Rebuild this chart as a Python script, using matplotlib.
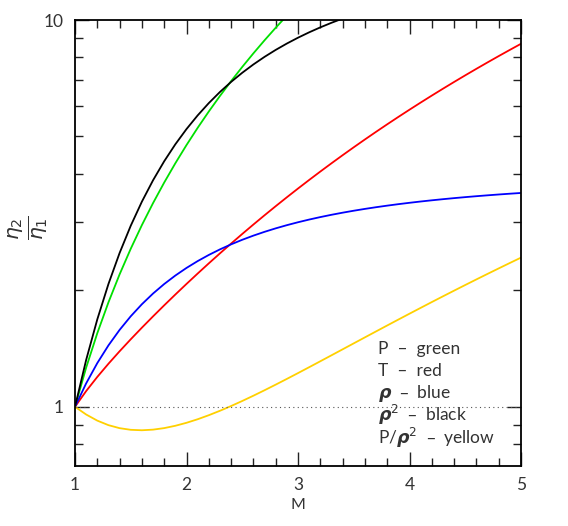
import matplotlib
matplotlib.use("Agg")
import matplotlib.pyplot as plt
from matplotlib.ticker import FixedLocator, NullFormatter, FixedFormatter

plt.rcParams['font.family'] = ['Lato', 'DejaVu Sans']
plt.rcParams['mathtext.fontset'] = 'dejavusans'

mach = [1.0, 1.1, 1.2, 1.3, 1.4, 1.5, 1.6, 1.7, 1.8, 1.9, 2.0,
        2.1, 2.2, 2.3, 2.4, 2.5, 2.6, 2.7, 2.8, 2.9, 3.0,
        3.1, 3.2, 3.3, 3.4, 3.5, 3.6, 3.7, 3.8, 3.9, 4.0,
        4.1, 4.2, 4.3, 4.4, 4.5, 4.6, 4.7, 4.8, 4.9, 5.0]

pressure = [1.0, 1.2625, 1.55, 1.8625, 2.2, 2.5625, 2.95, 3.3625, 3.8, 4.2625, 4.75,
            5.2625, 5.8, 6.3625, 6.95, 7.5625, 8.2, 8.8625, 9.55, 10.2625, 11.0,
            11.7625, 12.55, 13.3625, 14.2, 15.0625, 15.95, 16.8625, 17.8, 18.7625, 19.75,
            20.7625, 21.8, 22.8625, 23.95, 25.0625, 26.2, 27.3625, 28.55, 29.7625, 31.0]

temperature = [1.0, 1.0982, 1.1948, 1.2922, 1.3918, 1.4948, 1.6018, 1.7132, 1.8296, 1.9512, 2.0781,
               2.2106, 2.3488, 2.4927, 2.6424, 2.7981, 2.9598, 3.1274, 3.3011, 3.4808, 3.6667,
               3.8586, 4.0567, 4.2609, 4.4713, 4.6878, 4.9105, 5.1394, 5.3745, 5.6158, 5.8633,
               6.1170, 6.3769, 6.6430, 6.9153, 7.1939, 7.4786, 7.7696, 8.0669, 8.3703, 8.68]

density = [1.0, 1.1496, 1.2973, 1.4414, 1.5806, 1.7143, 1.8417, 1.9627, 2.0769, 2.1846, 2.2857,
           2.3806, 2.4694, 2.5525, 2.6301, 2.7027, 2.7705, 2.8338, 2.8930, 2.9483, 3.0,
           3.0484, 3.0937, 3.1361, 3.1758, 3.2131, 3.2481, 3.2810, 3.3119, 3.3410, 3.3684,
           3.3943, 3.4186, 3.4416, 3.4633, 3.4839, 3.5033, 3.5217, 3.5392, 3.5557, 3.5714]

density_sq = [1.0, 1.3217, 1.6830, 2.0775, 2.4984, 2.9388, 3.3920, 3.8520, 4.3136, 4.7724, 5.2245,
              5.6671, 6.0979, 6.5151, 6.9176, 7.3046, 7.6756, 8.0305, 8.3694, 8.6924, 9.0,
              9.2926, 9.5707, 9.8349, 10.0858, 10.3242, 10.5503, 10.7650, 10.9689, 11.1624, 11.3463,
              11.5209, 11.6868, 11.8446, 11.9947, 12.1374, 12.2732, 12.4025, 12.5257, 12.6432, 12.7551]

p_over_rho_sq = [1.0, 0.9552, 0.9210, 0.8965, 0.8806, 0.8720, 0.8697, 0.8729, 0.8809, 0.8932, 0.9092,
                 0.9286, 0.9512, 0.9766, 1.0047, 1.0353, 1.0683, 1.1036, 1.1411, 1.1806, 1.2222,
                 1.2658, 1.3113, 1.3587, 1.4079, 1.4590, 1.5118, 1.5664, 1.6228, 1.6809, 1.7407,
                 1.8021, 1.8654, 1.9302, 1.9967, 2.0649, 2.1347, 2.2062, 2.2793, 2.3541, 2.4304]

DASH = '  \u2013  '
legend_lines = ['P' + DASH + 'green',
                'T' + DASH + 'red',
                r'$\boldsymbol{\rho}$' + DASH + 'blue',
                r'$\boldsymbol{\rho}^2$' + DASH + 'black',
                r'P/$\boldsymbol{\rho}^2$' + DASH + 'yellow']

fig = plt.figure(figsize=(5.68, 5.26), dpi=100)
ax = fig.add_axes([75/568, 1 - 466/526, (521-75)/568, (466-20)/526])

lw = 1.3
ax.plot(mach, pressure, color='#00e000', lw=lw)
ax.plot(mach, temperature, color='#ff0000', lw=lw)
ax.plot(mach, density, color='#0000ff', lw=lw)
ax.plot(mach, density_sq, color='black', lw=lw)
ax.plot(mach, p_over_rho_sq, color='#ffd000', lw=lw)
ax.axhline(1.0, color='#555555', lw=0.8, ls=(0, (1, 3)))

ax.set_yscale('log')
ax.set_xlim(1, 5)
ax.set_ylim(0.703, 10)

ax.xaxis.set_major_locator(FixedLocator([1, 2, 3, 4, 5]))
ax.xaxis.set_minor_locator(FixedLocator([1.2, 1.4, 1.6, 1.8, 2.2, 2.4, 2.6, 2.8, 3.2, 3.4, 3.6, 3.8,
                                         4.2, 4.4, 4.6, 4.8]))
ax.set_xticklabels(['1', '2', '3', '4', '5'])
ax.yaxis.set_major_locator(FixedLocator([1, 10]))
ax.yaxis.set_major_formatter(FixedFormatter(['1', '10']))
ax.yaxis.set_minor_locator(FixedLocator([0.8, 0.9, 2, 3, 4, 5, 6, 7, 8, 9]))
ax.yaxis.set_minor_formatter(NullFormatter())

ax.tick_params(which='both', direction='in', top=True, right=True, width=1.0, labelsize=12.5,
               color='#222222', labelcolor='#333333')
ax.tick_params(which='major', length=10, pad=8)
ax.tick_params(which='minor', length=6)
for s in ax.spines.values():
    s.set_linewidth(1.3)

ax.set_xlabel('M', fontsize=11.5, color='#333333')
ax.xaxis.set_label_coords(0.5, -0.072)
ax.set_ylabel(r'$\frac{\eta_2}{\eta_1}$', fontsize=21, color='#333333')
ax.yaxis.set_label_coords(-0.055, 0.535)

for i, t in enumerate(legend_lines):
    ax.text(0.68, 0.262 - i * 0.0495, t, transform=ax.transAxes, fontsize=12.5,
            va='center', ha='left', color='#333333')

fig.savefig('out.png', dpi=100)
